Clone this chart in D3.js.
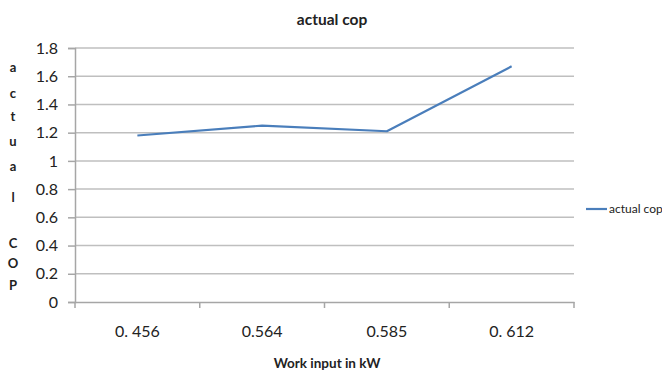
<!DOCTYPE html>
<html><head><meta charset="utf-8">
<script src="https://cdn.jsdelivr.net/npm/d3@7"></script>
<style>body{margin:0;background:#fff;}svg{display:block;font-family:Lato,"Open Sans",sans-serif;}</style>
</head><body>
<svg id="c" width="662" height="372"></svg>
<script>
const categories = ["0. 456", "0.564", "0.585", "0. 612"];
const copValues = [1.18, 1.25, 1.21, 1.67];
const yTicks = [0, 0.2, 0.4, 0.6, 0.8, 1, 1.2, 1.4, 1.6, 1.8];
const seriesName = "actual cop";
const chartTitle = "actual cop";
const xTitle = "Work input in kW";
const yTitleLetters = ["a","c","t","u","a","l","C","O","P"];

(function () {
const svg = d3.select("#c");
const mLeft = 75, mRight = 574, mTop = 48, mBottom = 302;
const x = d3.scaleBand().domain(categories).range([mLeft, mRight]);
const y = d3.scaleLinear().domain([0, 1.8]).range([mBottom, mTop]);

// gridlines
svg.append("g").selectAll("line").data(yTicks.filter(d => d > 0)).join("line")
  .attr("x1", mLeft).attr("x2", mRight)
  .attr("y1", d => y(d)).attr("y2", d => y(d))
  .attr("stroke", "#bfbfbf").attr("stroke-width", 1.5);

// y axis
const yAxis = svg.append("g").attr("transform", `translate(${mLeft},0)`)
  .call(d3.axisLeft(y).tickValues(yTicks).tickSize(7).tickPadding(10)
    .tickFormat(d => d === 1 ? "1" : d === 0 ? "0" : d3.format(".1f")(d)));
yAxis.select(".domain").attr("stroke", "#a6a6a6").attr("stroke-width", 1.5);
yAxis.selectAll(".tick line").attr("stroke", "#a6a6a6").attr("stroke-width", 1.5);
yAxis.selectAll("text").attr("font-size", 16).attr("fill", "#222").attr("font-family", "Lato");

// x axis
const xAxis = svg.append("g").attr("transform", `translate(0,${mBottom})`)
  .call(d3.axisBottom(x).tickSize(0).tickPadding(24));
xAxis.select(".domain").attr("stroke", "#a6a6a6").attr("stroke-width", 1.5);
xAxis.selectAll("text").attr("font-size", 16).attr("fill", "#222").attr("font-family", "Lato");
// category boundary ticks
svg.append("g").selectAll("line").data(d3.range(categories.length + 1)).join("line")
  .attr("x1", i => mLeft + i * x.step()).attr("x2", i => mLeft + i * x.step())
  .attr("y1", mBottom).attr("y2", mBottom + 6)
  .attr("stroke", "#a6a6a6").attr("stroke-width", 1.5);

// line
const line = d3.line().x((d, i) => x(categories[i]) + x.bandwidth() / 2).y(d => y(d));
svg.append("path").datum(copValues).attr("d", line)
  .attr("fill", "none").attr("stroke", "#4a7ebb").attr("stroke-width", 2.2)
  .attr("stroke-linejoin", "round");

// titles
svg.append("text").attr("x", 332).attr("y", 25).attr("text-anchor", "middle")
  .attr("font-size", 15.5).attr("font-weight", "bold").attr("fill", "#222").text(chartTitle);
svg.append("text").attr("x", 327).attr("y", 368).attr("text-anchor", "middle")
  .attr("font-size", 13.5).attr("font-weight", "bold").attr("fill", "#222").text(xTitle);

// vertical y title
const yPos = [72, 98, 121, 146, 171, 202, 248, 268, 290];
const yt = svg.append("text").attr("font-size", 13).attr("font-weight", "bold").attr("fill", "#222")
  .attr("text-anchor", "middle");
yTitleLetters.forEach((ch, i) => {
  yt.append("tspan").attr("x", 13).attr("y", yPos[i]).text(ch);
});

// legend
svg.append("line").attr("x1", 586).attr("x2", 607).attr("y1", 209).attr("y2", 209)
  .attr("stroke", "#4a7ebb").attr("stroke-width", 2.2);
svg.append("text").attr("x", 609).attr("y", 213).attr("font-size", 12).attr("fill", "#222").text(seriesName);
})();
</script>
</body></html>
